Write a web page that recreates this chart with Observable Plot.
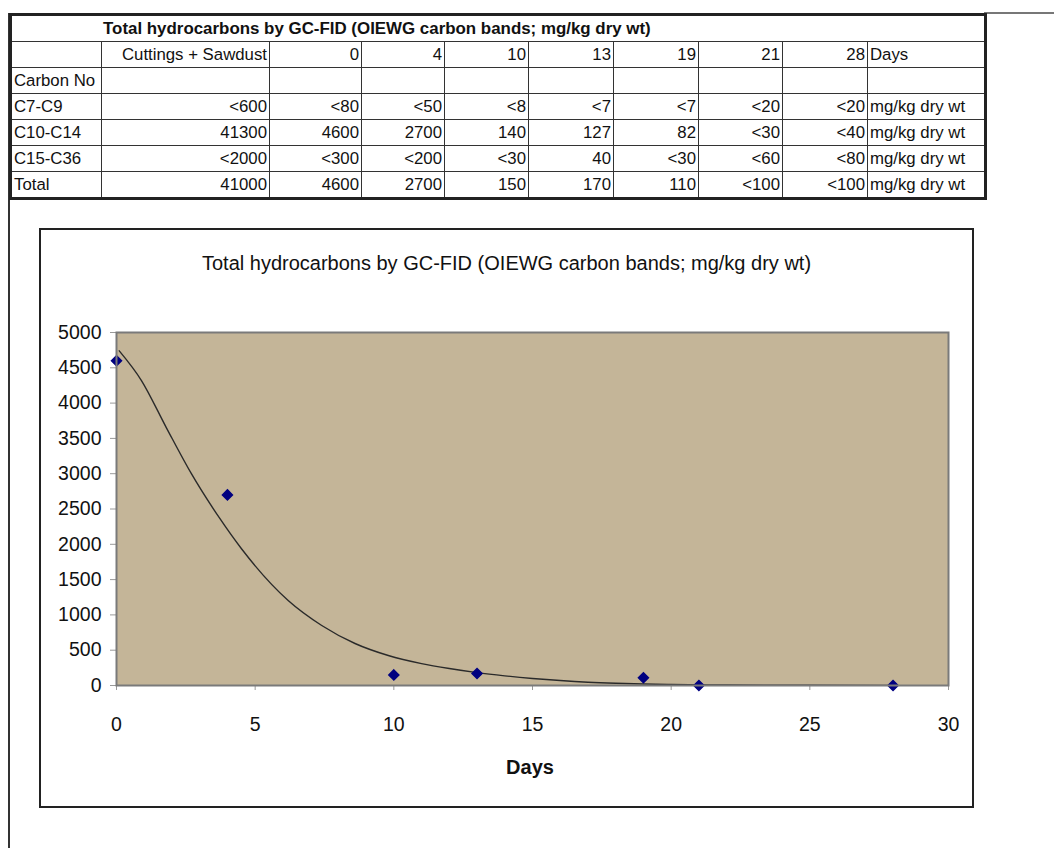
<!DOCTYPE html>
<html>
<head>
<meta charset="utf-8">
<script src="https://cdn.jsdelivr.net/npm/d3@7"></script>
<script src="https://cdn.jsdelivr.net/npm/@observablehq/plot@0.6"></script>
<style>
  html, body { margin: 0; padding: 0; background: #fff; }
  #root { position: relative; width: 1054px; height: 848px; overflow: hidden; font-family: "Liberation Sans", Arial, sans-serif; color: #111; }
  #pageLeft { position: absolute; left: 8px; top: 13px; width: 2px; height: 835px; background: #333; }
  #pageTop { position: absolute; left: 984px; top: 12px; width: 70px; height: 2px; background: #777; }
  #tbl { position: absolute; left: 9px; top: 13px; width: 975px; border-collapse: collapse; table-layout: fixed; border: 3px solid #222; font-size: 16.8px; }
  #tbl td { border: 1.5px solid #333; height: 25px; padding: 0 2px; white-space: nowrap; overflow: visible; line-height: 25px; }
  #tbl td.r { text-align: right; }
  #tbl td.l { text-align: left; }
  #tbl td.title { font-weight: bold; padding-left: 91px; font-size: 16.9px; }
  #frame { position: absolute; left: 39px; top: 228px; width: 935px; height: 580px; border: 2px solid #222; box-sizing: border-box; }
  #ctitle { position: absolute; left: 39px; width: 935px; top: 251px; text-align: center; font-size: 20px; line-height: 24px; }
  #plot { position: absolute; left: 39px; top: 228px; }
  #xlabel { position: absolute; left: 430px; width: 200px; top: 755px; text-align: center; font-size: 20px; font-weight: bold; line-height: 24px; }
  #plot g[aria-label$="-axis tick"] { stroke: #999; }
</style>
</head>
<body>
<div id="root">
  <div id="pageLeft"></div>
  <div id="pageTop"></div>
  <table id="tbl"></table>
  <div id="frame"></div>
  <div id="ctitle"></div>
  <div id="plot"></div>
  <div id="xlabel"></div>
</div>
<script>
// ---- data ----
const tableTitle = "Total hydrocarbons by GC-FID (OIEWG carbon bands; mg/kg dry wt)";
const chartTitle = "Total hydrocarbons by GC-FID (OIEWG carbon bands; mg/kg dry wt)";
const sampleHeaders = ["Cuttings + Sawdust", "0", "4", "10", "13", "19", "21", "28"];
const daysUnit = "Days";
const carbonHeader = "Carbon No";
const bandNames = ["C7-C9", "C10-C14", "C15-C36", "Total"];
const bandC7C9 = ["<600", "<80", "<50", "<8", "<7", "<7", "<20", "<20"];
const bandC10C14 = ["41300", "4600", "2700", "140", "127", "82", "<30", "<40"];
const bandC15C36 = ["<2000", "<300", "<200", "<30", "40", "<30", "<60", "<80"];
const bandTotal = ["41000", "4600", "2700", "150", "170", "110", "<100", "<100"];
const valueUnit = "mg/kg dry wt";

// plotted points (Total, "<100" shown at 0)
const days = [0, 4, 10, 13, 19, 21, 28];
const totals = [4600, 2700, 150, 170, 110, 0, 0];

// trend curve
const curveDays = [0.1, 0.9, 1.8, 2.7, 3.7, 4.5, 6.2, 7.4, 8.6, 9.8, 11, 12, 13, 14, 15, 16, 17, 18, 19, 20, 22, 25, 28];
const curveVals = [4740, 4320, 3650, 3000, 2380, 1940, 1200, 850, 595, 425, 310, 240, 182, 137, 100, 70, 47, 32, 22, 14, 7, 3, 1];

const xTicks = [0, 5, 10, 15, 20, 25, 30];
const yTicks = [0, 500, 1000, 1500, 2000, 2500, 3000, 3500, 4000, 4500, 5000];
const xLabel = "Days";

// ---- table ----
const colWidths = [91, 168, 92, 83, 84, 85, 85, 84, 85, 118];
const tbl = document.getElementById("tbl");
const cg = document.createElement("colgroup");
colWidths.forEach(w => { const c = document.createElement("col"); c.style.width = w + "px"; cg.appendChild(c); });
tbl.appendChild(cg);
function addRow(cells) {
  const tr = document.createElement("tr");
  cells.forEach(([text, cls, span]) => {
    const td = document.createElement("td");
    td.textContent = text;
    if (cls) td.className = cls;
    if (span) td.colSpan = span;
    tr.appendChild(td);
  });
  tbl.appendChild(tr);
}
addRow([[tableTitle, "title", 10]]);
addRow([["", "l"], ...sampleHeaders.map(h => [h, "r"]), [daysUnit, "l"]]);
addRow([[carbonHeader, "l"], ...sampleHeaders.map(() => ["", "r"]), ["", "l"]]);
[bandC7C9, bandC10C14, bandC15C36, bandTotal].forEach((vals, i) => {
  addRow([[bandNames[i], "l"], ...vals.map(v => [v, "r"]), [valueUnit, "l"]]);
});

// ---- chart ----
document.getElementById("ctitle").textContent = chartTitle;
document.getElementById("xlabel").textContent = xLabel;

const points = days.map((d, i) => ({day: d, value: totals[i]}));
const curve = curveDays.map((d, i) => ({day: d, value: curveVals[i]}));

const chart = Plot.plot({
  width: 935,
  height: 580,
  marginLeft: 77,
  marginRight: 26,
  marginTop: 104,
  marginBottom: 123,
  style: {background: "transparent", fontFamily: "'Liberation Sans', Arial, sans-serif", fontSize: "19.5px", color: "#111", overflow: "visible"},
  x: {domain: [0, 30], ticks: xTicks, tickSize: 5, tickPadding: 27, label: null, tickFormat: d => String(d)},
  y: {domain: [0, 5000], ticks: yTicks, tickSize: 6, tickPadding: 9, label: null, tickFormat: d => String(d)},
  marks: [
    Plot.frame({fill: "#C4B598", stroke: null}),
    Plot.line(curve, {x: "day", y: "value", stroke: "#2a2a2a", strokeWidth: 1.4, curve: "monotone-x"}),
    Plot.dot(points, {x: "day", y: "value", symbol: "diamond2", fill: "#000080", stroke: "#000080", r: 4.5}),
    Plot.frame({stroke: "#7a7a7a", strokeWidth: 2})
  ]
});
document.getElementById("plot").appendChild(chart);
</script>
</body>
</html>
